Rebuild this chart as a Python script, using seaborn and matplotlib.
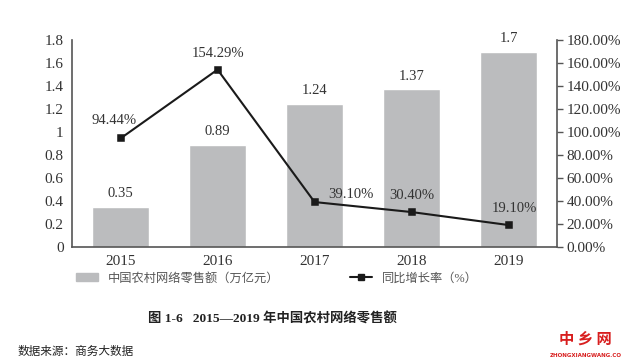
import seaborn as sns
import matplotlib.pyplot as plt
from matplotlib.lines import Line2D
from matplotlib.patches import Patch
import pandas as pd

years = ["2015", "2016", "2017", "2018", "2019"]
sales = [0.35, 0.89, 1.24, 1.37, 1.7]
growth = [94.44, 154.29, 39.10, 30.40, 19.10]
growth_labels = ["94.44%", "154.29%", "39.10%", "30.40%", "19.10%"]

bar_name = "中国农村网络零售额（万亿元）"
line_name = "同比增长率（%）"
title = "图 1-6   2015—2019 年中国农村网络零售额"
source = "数据来源：商务大数据"

df = pd.DataFrame({"year": years, "sales": sales, "growth": growth})

sns.set_theme(style="white")
plt.rcParams["font.family"] = ["Liberation Serif", "Noto Sans CJK SC"]
plt.rcParams["text.color"] = "#333333"

grey = "#bbbcbe"
fig = plt.figure(figsize=(6.4, 3.64), dpi=100)
ax = fig.add_axes([0.1125, 0.3214, 0.758, 0.5686])

sns.barplot(data=df, x="year", y="sales", color=grey, width=0.58,
            saturation=1, ax=ax)
ax.set_ylim(0, 1.8)
ax.set_xlim(-0.5, 4.5)
ax.set_yticks([0, 0.2, 0.4, 0.6, 0.8, 1.0, 1.2, 1.4, 1.6, 1.8])
ax.set_yticklabels(["0", "0.2", "0.4", "0.6", "0.8", "1", "1.2", "1.4", "1.6", "1.8"])
ax.set_xlabel("")
ax.set_ylabel("")
ax.tick_params(axis="both", labelsize=11, colors="#333333", length=0, pad=6)
for s in ["top", "right"]:
    ax.spines[s].set_visible(False)
for s in ["left", "bottom"]:
    ax.spines[s].set_color("#555555")
    ax.spines[s].set_linewidth(1.2)

for i, v in enumerate(sales):
    ax.annotate(f"{v:g}", (i, v), xytext=(0, 5), textcoords="offset points",
                ha="center", va="bottom", fontsize=10.5, color="#333333")

ax2 = ax.twinx()
sns.pointplot(data=df, x="year", y="growth", color="#1a1a1a", markers="s",
              markersize=5, linewidth=1.5, ax=ax2)
ax2.set_ylim(0, 180)
ax2.set_xlim(-0.5, 4.5)
ax2.set_yticks(range(0, 181, 20))
ax2.set_yticklabels([f"{t:.2f}%" for t in range(0, 181, 20)])
ax2.set_ylabel("")
ax2.set_xlabel("")
ax2.tick_params(axis="y", labelsize=11, colors="#333333", length=4,
                width=1, direction="out", pad=3)
ax2.tick_params(axis="y", which="both", color="#555555")
for s in ["top", "left", "bottom"]:
    ax2.spines[s].set_visible(False)
ax2.spines["right"].set_color("#555555")
ax2.spines["right"].set_linewidth(1.2)

offsets = [(-5, 8), (0, 7), (26, 1), (0, 7), (4, 7)]
for i, (v, lab) in enumerate(zip(growth, growth_labels)):
    ax2.annotate(lab, (i, v), xytext=offsets[i], textcoords="offset points",
                 ha="center", va="bottom", fontsize=10.5, color="#333333")

handles = [Patch(color=grey),
           Line2D([0], [0], color="#1a1a1a", marker="s", markersize=5, linewidth=1.5)]
fig.legend(handles, [bar_name, line_name], loc="center", bbox_to_anchor=(0.433, 0.235),
           ncol=2, frameon=False, fontsize=8.8, columnspacing=5.8,
           handlelength=1.8, labelcolor="#555555")

fig.text(0.425, 0.124, title, ha="center", va="center", fontsize=9.6,
         fontweight="bold", color="#222222")
fig.text(0.027, 0.033, source, ha="left", va="center", fontsize=8.4, color="#222222")
fig.text(0.915, 0.07, "中 乡 网", ha="center", va="center", fontsize=11,
         fontweight="bold", color="#d81e1e", family=["Noto Sans CJK SC"])
fig.text(0.915, 0.022, "ZHONGXIANGWANG.CO", ha="center", va="center", fontsize=4,
         fontweight="bold", color="#d81e1e", family=["DejaVu Sans"])

fig.savefig("out.png", dpi=100, facecolor="white")
